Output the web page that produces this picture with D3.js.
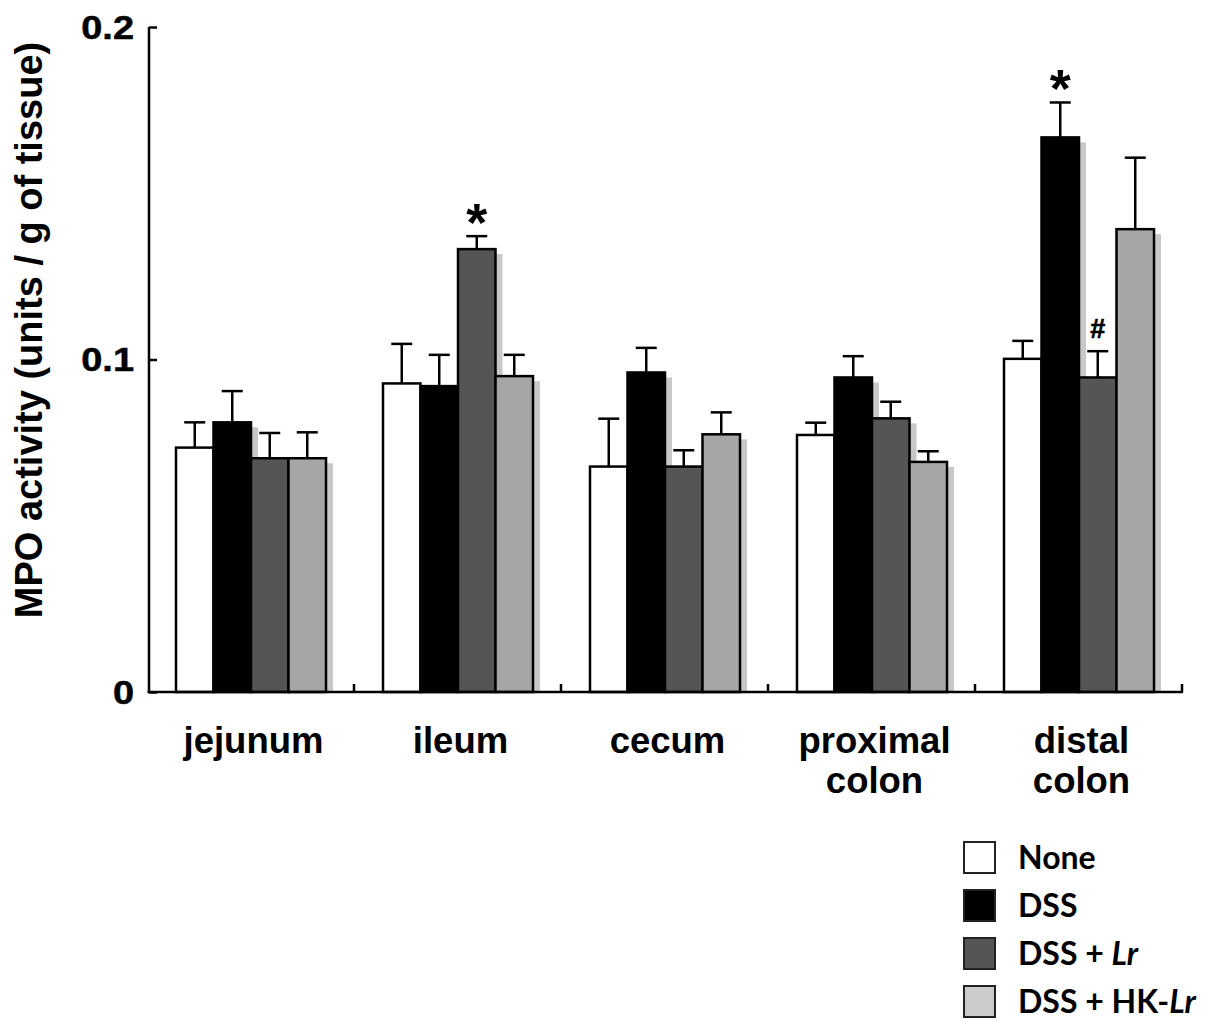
<!DOCTYPE html>
<html>
<head>
<meta charset="utf-8">
<script src="https://cdn.jsdelivr.net/npm/d3@7/dist/d3.min.js"></script>
<style>
  html, body { margin: 0; padding: 0; background: #fff; }
  svg { display: block; }
</style>
</head>
<body>
<svg id="chart" width="1206" height="1021"></svg>
<script>
// Intestinal segments on the x axis
const categories = ["jejunum", "ileum", "cecum", "proximal colon", "distal colon"];

// Treatment groups
const groups = ["None", "DSS", "DSS + Lr", "DSS + HK-Lr"];

// Mean MPO activity (units / g of tissue) per group, in category order
const meanNone   = [0.0735, 0.0928, 0.0678, 0.0773, 0.1002];
const meanDSS    = [0.0811, 0.0920, 0.0961, 0.0946, 0.1668];
const meanDSSLr  = [0.0703, 0.1332, 0.0678, 0.0823, 0.0946];
const meanDSSHK  = [0.0703, 0.0950, 0.0775, 0.0692, 0.1392];

// Standard deviation (upper error bars)
const sdNone  = [0.0076, 0.0119, 0.0144, 0.0037, 0.0054];
const sdDSS   = [0.0094, 0.0094, 0.0074, 0.0064, 0.0105];
const sdDSSLr = [0.0076, 0.0039, 0.0049, 0.0050, 0.0079];
const sdDSSHK = [0.0078, 0.0064, 0.0066, 0.0032, 0.0215];

// Y axis ticks
const yTicks = [0, 0.1, 0.2];
const yTickLabels = ["0", "0.1", "0.2"];

// Significance marks: [category, group, symbol]
const marks = [
  ["ileum", "DSS + Lr", "*"],
  ["distal colon", "DSS", "*"],
  ["distal colon", "DSS + Lr", "#"]
];

const means = [meanNone, meanDSS, meanDSSLr, meanDSSHK];
const sds = [sdNone, sdDSS, sdDSSLr, sdDSSHK];
const barFill = { "None": "#ffffff", "DSS": "#000000", "DSS + Lr": "#555555", "DSS + HK-Lr": "#a6a6a6" };
const legendFill = { "None": "#ffffff", "DSS": "#000000", "DSS + Lr": "#555555", "DSS + HK-Lr": "#cbcbcb" };
const shadowFill = "#c8c8c8";

const rows = [];
categories.forEach((c, ci) => {
  groups.forEach((g, gi) => {
    rows.push({ category: c, group: g, mean: means[gi][ci], sd: sds[gi][ci] });
  });
});

const svg = d3.select("#chart");
const FONT = "'Liberation Sans', Arial, Helvetica, sans-serif";

const x0 = d3.scaleBand().domain(categories).range([147, 1182]).paddingInner(0).paddingOuter(0);
const x1 = d3.scaleBand().domain(groups).range([29, x0.bandwidth() - 28]).padding(0);
const y = d3.scaleLinear().domain([0, 0.2]).range([692, 27]);

const plot = svg.append("g");

// Bars with drop shadows, drawn group by group so each bar covers its left neighbour's shadow
categories.forEach(c => {
  const g = plot.append("g").attr("transform", `translate(${x0(c)},0)`);
  rows.filter(r => r.category === c).forEach(r => {
    g.append("rect")
      .attr("x", x1(r.group) + 7)
      .attr("y", y(r.mean) + 5)
      .attr("width", x1.bandwidth())
      .attr("height", y(0) - y(r.mean) - 5)
      .attr("fill", shadowFill);
    g.append("rect")
      .attr("x", x1(r.group))
      .attr("y", y(r.mean))
      .attr("width", x1.bandwidth())
      .attr("height", y(0) - y(r.mean))
      .attr("fill", barFill[r.group])
      .attr("stroke", "#000")
      .attr("stroke-width", 2.5);
  });
});

// Upper error bars
const err = plot.append("g").attr("stroke", "#000").attr("stroke-width", 2.5);
rows.forEach(r => {
  const cx = x0(r.category) + x1(r.group) + x1.bandwidth() / 2;
  err.append("line").attr("x1", cx).attr("x2", cx).attr("y1", y(r.mean)).attr("y2", y(r.mean + r.sd));
  err.append("line").attr("x1", cx - 10.5).attr("x2", cx + 10.5).attr("y1", y(r.mean + r.sd)).attr("y2", y(r.mean + r.sd));
});

// Significance symbols
marks.forEach(([c, gName, sym]) => {
  const r = rows.find(d => d.category === c && d.group === gName);
  const cx = x0(c) + x1(gName) + x1.bandwidth() / 2;
  const big = sym === "*";
  svg.append("text")
    .attr("x", cx)
    .attr("y", y(r.mean + r.sd) + (big ? 5 : -13))
    .attr("text-anchor", "middle")
    .attr("font-family", FONT)
    .attr("font-weight", "bold")
    .attr("font-size", big ? 54 : 27)
    .attr("stroke", big ? "none" : "#000")
    .attr("stroke-width", big ? 0 : 0.6)
    .text(sym);
});

// Y axis (ticks point inward)
const yAxis = d3.axisRight(y).tickValues(yTicks).tickSize(8).tickFormat("");
const ya = svg.append("g").attr("transform", "translate(149,0)").call(yAxis);
ya.select(".domain").attr("stroke", "#000").attr("stroke-width", 2.5).attr("d", `M0,${y(0.2)}V${y(0)}`);
ya.selectAll(".tick line").attr("stroke", "#000").attr("stroke-width", 2.5);

yTicks.forEach((t, i) => {
  svg.append("text")
    .attr("transform", `translate(134,${y(t) + 11.5}) scale(1.15,1)`)
    .attr("text-anchor", "end")
    .attr("font-family", FONT)
    .attr("font-weight", "bold")
    .attr("font-size", 33)
    .attr("stroke", "#000")
    .attr("stroke-width", 0.5)
    .text(yTickLabels[i]);
});

// X axis baseline with upward ticks at category boundaries
const xa = svg.append("g");
xa.append("line").attr("x1", 147.5).attr("x2", 1183).attr("y1", y(0)).attr("y2", y(0))
  .attr("stroke", "#000").attr("stroke-width", 2.5);
categories.forEach(c => {
  const bx = x0(c) + x0.bandwidth();
  xa.append("line").attr("x1", bx).attr("x2", bx).attr("y1", y(0)).attr("y2", y(0) - 8)
    .attr("stroke", "#000").attr("stroke-width", 2.5);
});

// Category labels
categories.forEach(c => {
  const parts = c.split(" ");
  const t = svg.append("text")
    .attr("text-anchor", "middle")
    .attr("font-family", FONT)
    .attr("font-weight", "bold")
    .attr("font-size", 36.5);
  parts.forEach((p, i) => {
    t.append("tspan").attr("x", x0(c) + x0.bandwidth() / 2 + 3).attr("y", 753 + i * 40).text(p);
  });
});

// Y axis title
svg.append("text")
  .attr("transform", "translate(42,330) rotate(-90)")
  .attr("text-anchor", "middle")
  .attr("font-family", FONT)
  .attr("font-weight", "bold")
  .attr("font-size", 38)
  .text("MPO activity (units / g of tissue)");

// Legend
const legend = svg.append("g").attr("transform", "translate(964,842)");
groups.forEach((g, i) => {
  const row = legend.append("g").attr("transform", `translate(0,${i * 48})`);
  row.append("rect").attr("x", 0).attr("y", 0).attr("width", 31).attr("height", 31)
    .attr("fill", legendFill[g]).attr("stroke", "#222").attr("stroke-width", 2);
  const t = row.append("text").attr("x", 54).attr("y", 27)
    .attr("font-family", "Lato, 'Open Sans', sans-serif")
    .attr("font-weight", "bold")
    .attr("font-size", 32);
  const m = g.match(/^(.*?)(Lr)$/);
  if (m) {
    t.append("tspan").text(m[1]);
    t.append("tspan").attr("font-style", "italic").text(m[2]);
  } else {
    t.text(g);
  }
});
</script>
</body>
</html>
